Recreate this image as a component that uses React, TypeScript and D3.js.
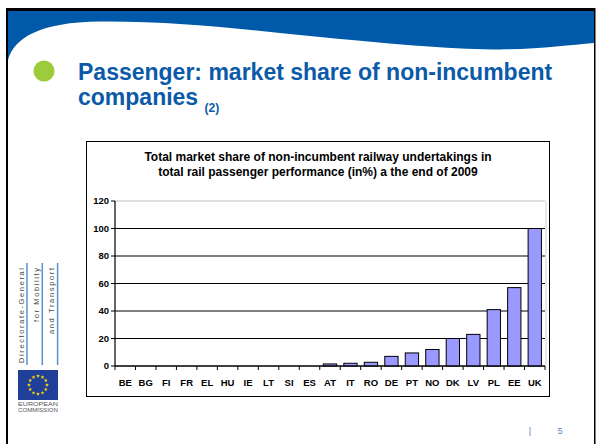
import * as d3 from "d3";
import React from "react";

const countries = ["BE", "BG", "FI", "FR", "EL", "HU", "IE", "LT", "SI", "ES", "AT", "IT", "RO", "DE", "PT", "NO", "DK", "LV", "PL", "EE", "UK"];
const shares = [0, 0, 0, 0, 0, 0, 0, 0, 0, 0, 1.5, 2, 2.7, 7, 9.5, 12, 20, 23, 41, 57, 100];
const yTicks = [0, 20, 40, 60, 80, 100, 120];
const chartTitle = [
  "Total market share of non-incumbent railway undertakings in",
  "total rail passenger performance (in%) a the end of 2009",
];
const dgLines = [
  { text: "Directorate-General", len: 95 },
  { text: "for Mobility", len: 54 },
  { text: "and Transport", len: 66 },
];

const W = 596;
const H = 444;
const font = "Arial, 'Liberation Sans', sans-serif";

const App = () => {
  const plot = { left: 115, right: 545, top: 201, bottom: 366 };

  const x = d3
    .scaleBand<string>()
    .domain(countries)
    .range([plot.left, plot.right])
    .paddingInner(0.35)
    .paddingOuter(0.175);

  const y = d3.scaleLinear().domain([0, 120]).range([plot.bottom, plot.top]);

  const step = x.step();
  const boundaries = d3.range(countries.length + 1).map((i) => plot.left + i * step);

  // twelve stars of the EU flag
  const stars = d3.range(12).map((i) => {
    const a = (i / 12) * Math.PI * 2;
    return [38 + 9 * Math.cos(a), 385 + 9 * Math.sin(a)];
  });
  const starPath = d3.symbol().type(d3.symbolStar).size(5)();

  return (
    <div style={{ position: "fixed", left: 0, top: 0 }}>
      <svg width={W} height={H} style={{ display: "block", fontFamily: font }}>
        <rect x={0} y={0} width={W} height={H} fill="#fff" />

        {/* slide header band */}
        <rect x={8} y={11} width={586} height={55} fill="#005aa9" />
        <path
          d="M8,60 C14,38 40,22 100,21.5 C180,21 250,30 320,37 C400,45 460,49.5 500,49.5 C540,49 570,45 594,43 L594,70 L8,70 Z"
          fill="#fff"
        />
        <rect x={6} y={8} width={589} height={3} fill="#000" />
        <rect x={6} y={8} width={2} height={H} fill="#000" />
        <rect x={594} y={8} width={1.5} height={H} fill="#000" />

        {/* slide title */}
        <circle cx={44} cy={71} r={10.5} fill="#9ccc3c" />
        <text x={78} y={80} fontSize={23} fontWeight="bold" fill="#0b5aa8">
          Passenger: market share of non-incumbent
        </text>
        <text x={78} y={105} fontSize={23} fontWeight="bold" fill="#0b5aa8">
          companies{" "}
          <tspan fontSize={12} dy={7}>
            (2)
          </tspan>
        </text>

        {/* left logo */}
        {dgLines.map((d, i) => (
          <g key={d.text}>
            <text
              transform={`translate(${24 + i * 15},268) rotate(-90)`}
              textAnchor="end"
              fontSize={7.5}
              fill="#444"
              textLength={d.len}
              lengthAdjust="spacing"
            >
              {d.text}
            </text>
            <line x1={27 + i * 15.3} x2={27 + i * 15.3} y1={263} y2={365} stroke="#5b8fd0" strokeWidth={1.5} />
          </g>
        ))}
        <rect x={18} y={370} width={40} height={30} fill="#1f3f99" />
        {stars.map(([sx, sy], i) => (
          <path key={i} d={starPath || undefined} transform={`translate(${sx},${sy})`} fill="#ffdd00" />
        ))}
        <text x={18} y={405.5} fontSize={5.5} fill="#555" textLength={40} lengthAdjust="spacingAndGlyphs">
          EUROPEAN
        </text>
        <text x={18} y={411.5} fontSize={5.5} fill="#555" textLength={40} lengthAdjust="spacingAndGlyphs">
          COMMISSION
        </text>

        {/* chart box */}
        <rect x={86.5} y={141.5} width={463} height={255} fill="#fff" stroke="#000" strokeWidth={1} />
        {chartTitle.map((t, i) => (
          <text key={i} x={318} y={161 + i * 15} textAnchor="middle" fontSize={12} fontWeight="bold" fill="#000">
            {t}
          </text>
        ))}

        {/* grid */}
        {yTicks.map((t) => (
          <line
            key={t}
            x1={plot.left}
            x2={plot.right}
            y1={y(t)}
            y2={y(t)}
            stroke={t === 120 ? "#c0c0c0" : "#000"}
            strokeWidth={1}
          />
        ))}
        <line x1={plot.right + 1} x2={plot.right + 1} y1={plot.top} y2={plot.bottom} stroke="#d0d0d0" />

        {/* bars */}
        {countries.map((c, i) => (
          <rect
            key={c}
            x={x(c)}
            y={y(shares[i])}
            width={x.bandwidth()}
            height={y(0) - y(shares[i])}
            fill="#9999ff"
            stroke="#000"
            strokeWidth={1}
          />
        ))}

        {/* axes */}
        <line x1={plot.left} x2={plot.left} y1={plot.top} y2={plot.bottom} stroke="#000" strokeWidth={1.2} />
        <line x1={plot.left} x2={plot.right} y1={plot.bottom} y2={plot.bottom} stroke="#000" strokeWidth={1.2} />
        {yTicks.map((t) => (
          <g key={t}>
            <line x1={plot.left - 4} x2={plot.left} y1={y(t)} y2={y(t)} stroke="#000" />
            <text x={109} y={y(t)} dy="0.35em" textAnchor="end" fontSize={9.5} fontWeight="bold">
              {t}
            </text>
          </g>
        ))}
        {boundaries.map((bx, i) => (
          <line key={i} x1={bx} x2={bx} y1={plot.bottom} y2={plot.bottom + 4} stroke="#000" />
        ))}
        {countries.map((c) => (
          <text key={c} x={(x(c) || 0) + x.bandwidth() / 2} y={385.5} textAnchor="middle" fontSize={9.5} fontWeight="bold">
            {c}
          </text>
        ))}

        {/* page number */}
        <text x={530} y={434} fontSize={9} fill="#4f81bd" textAnchor="middle">
          |
        </text>
        <text x={560} y={434} fontSize={8.5} fill="#4f81bd" textAnchor="middle">
          5
        </text>
      </svg>
    </div>
  );
};

export default App;
